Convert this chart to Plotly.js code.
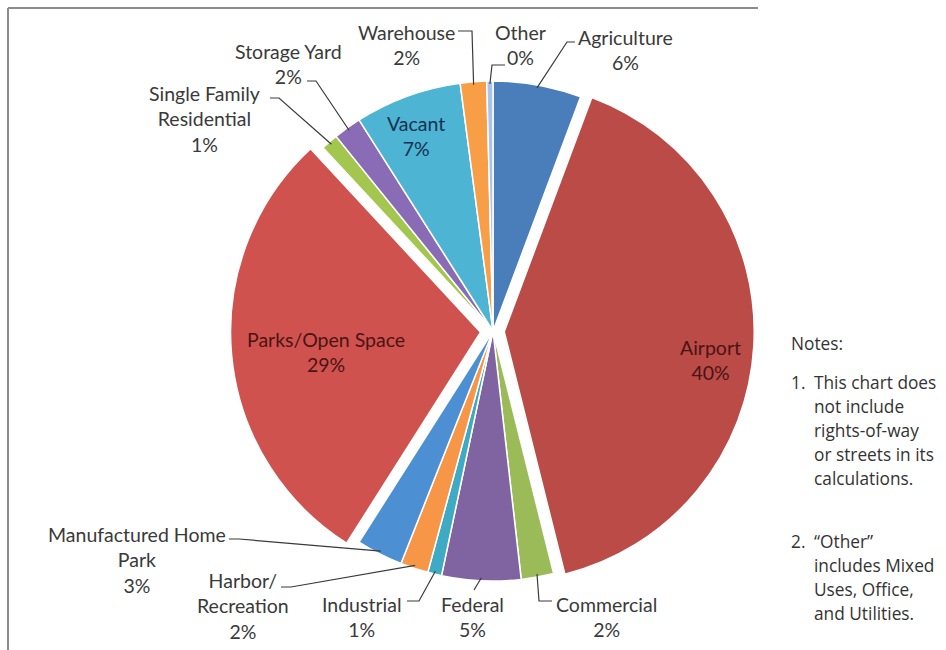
<!DOCTYPE html>
<html>
<head>
<meta charset="utf-8">
<script src="https://cdn.plot.ly/plotly-3.0.1.min.js"></script>
<style>
  html, body { margin: 0; padding: 0; background: #ffffff; }
  #chart { width: 946px; height: 650px; }
</style>
</head>
<body>
<div id="chart"></div>
<script>
// ---- Data ----
const categories = ["Agriculture", "Airport", "Commercial", "Federal", "Industrial",
  "Harbor/ Recreation", "Manufactured Home Park", "Parks/Open Space",
  "Single Family Residential", "Storage Yard", "Vacant", "Warehouse", "Other"];
const shares = [5.7, 40.4, 2.1, 5.1, 0.9, 1.8, 3.0, 29.1, 1.1, 1.8, 6.9, 1.7, 0.4];
// label text as displayed (line breaks)
const labelLines = [
  ["Agriculture"], ["Airport"], ["Commercial"], ["Federal"], ["Industrial"],
  ["Harbor/", "Recreation"], ["Manufactured Home", "Park"], ["Parks/Open Space"],
  ["Single Family", "Residential"], ["Storage Yard"], ["Vacant"], ["Warehouse"], ["Other"]
];
const notesTitle = "Notes:";
const notes = [
  ["This chart does", "not include", "rights-of-way", "or streets in its", "calculations."],
  ["\u201COther\u201D", "includes Mixed", "Uses, Office,", "and Utilities."]
];

// ---- Styles ----
const colors = ["#4A7EBB", "#BA4B47", "#9BBB59", "#8064A2", "#3FAAC4", "#F79646",
  "#4C8FD2", "#D0524E", "#A2C64E", "#8A6BB5", "#4DB4D4", "#F89E46", "#A9C4EA"];
const pulls = [0, 0.045, 0, 0, 0, 0, 0, 0.05, 0, 0, 0, 0, 0];

// ---- Geometry / layout (pixels) ----
const W = 946, H = 650;
const CX = 493, CY = 331, R = 250;
const maxPull = Math.max.apply(null, pulls);
const half = R * (1 + maxPull);
const px = x => x / W;
const py = y => 1 - y / H;

// Label placement: text block center (x) and top (y); leader: start point, elbow point
const labelPos = {
  "Agriculture": {x: 625, y: 24, start: [575, 42], elbow: [567, 42]},
  "Airport": {x: 710, y: 334, inside: true, color: "#4a1414"},
  "Commercial": {x: 606, y: 591, start: [552, 601], elbow: [539, 601]},
  "Federal": {x: 472, y: 591, start: [474, 590], elbow: [474, 590]},
  "Industrial": {x: 362, y: 591, start: [407, 601], elbow: [419, 601]},
  "Harbor/ Recreation": {x: 243, y: 567, start: [281, 587], elbow: [291, 587]},
  "Manufactured Home Park": {x: 137, y: 521, start: [229, 539], elbow: [239, 539]},
  "Parks/Open Space": {x: 326, y: 326, inside: true, color: "#4a1414"},
  "Single Family Residential": {x: 204, y: 80, start: [270, 98], elbow: [279, 98]},
  "Storage Yard": {x: 288, y: 38, start: [307, 81], elbow: [316, 81]},
  "Vacant": {x: 416, y: 110, inside: true, color: "#17324f"},
  "Warehouse": {x: 406, y: 19, start: [458, 31], elbow: [472, 31]},
  "Other": {x: 520, y: 19, start: [505, 65], elbow: [492, 65]}
};

const total = shares.reduce((a, b) => a + b, 0);
const annotations = [];
const shapes = [];
const font = {family: "Lato, 'Open Sans', sans-serif", size: 19.5, color: "#3a3a3a"};

let cum = 0;
categories.forEach((cat, i) => {
  const frac = shares[i] / total;
  const mid = cum + frac / 2;
  cum += frac;
  const pos = labelPos[cat];
  const pct = Math.round(frac * 100) + "%";
  const text = labelLines[i].concat([pct]).join("<br>");
  annotations.push({
    xref: "paper", yref: "paper", x: px(pos.x), y: py(pos.y),
    xanchor: "center", yanchor: "top", showarrow: false, align: "center",
    text: text,
    font: Object.assign({}, font, pos.inside ? {color: pos.color} : {})
  });
  if (!pos.inside) {
    // leader end on the slice's outer edge, from the data
    const th = mid * 2 * Math.PI;
    const rr = R * (1 + pulls[i]) - 3;
    const ax = CX + rr * Math.sin(th);
    const ay = CY - rr * Math.cos(th);
    const path = "M " + px(pos.start[0]) + "," + py(pos.start[1]) +
      " L " + px(pos.elbow[0]) + "," + py(pos.elbow[1]) +
      " L " + px(ax) + "," + py(ay);
    shapes.push({type: "path", xref: "paper", yref: "paper", path: path,
      line: {color: "#3a3a3a", width: 1.2}});
  }
});

// Frame lines (top and left)
shapes.push({type: "line", xref: "paper", yref: "paper",
  x0: px(8), y0: py(8), x1: px(758), y1: py(8), line: {color: "#8c8c8c", width: 2}});
shapes.push({type: "line", xref: "paper", yref: "paper",
  x0: px(8), y0: py(8), x1: px(8), y1: py(650), line: {color: "#8c8c8c", width: 2}});

// Notes
const noteFont = {family: "'Open Sans', 'Noto Sans', sans-serif", size: 17.3, color: "#333333"};
annotations.push({xref: "paper", yref: "paper", x: px(789), y: py(343), xanchor: "left",
  yanchor: "middle", showarrow: false, text: notesTitle, font: noteFont});
const noteStarts = [382, 541];
notes.forEach((lines, k) => {
  annotations.push({xref: "paper", yref: "paper", x: px(789), y: py(noteStarts[k]),
    xanchor: "left", yanchor: "middle", showarrow: false, text: (k + 1) + ".", font: noteFont});
  lines.forEach((ln, j) => {
    annotations.push({xref: "paper", yref: "paper", x: px(812), y: py(noteStarts[k] + j * 24),
      xanchor: "left", yanchor: "middle", showarrow: false, text: ln, font: noteFont});
  });
});

const trace = {
  type: "pie",
  labels: categories,
  values: shares,
  sort: false,
  direction: "clockwise",
  rotation: 0,
  pull: pulls,
  textinfo: "none",
  hoverinfo: "label+percent",
  marker: {colors: colors, line: {color: "#ffffff", width: 1.5}},
  domain: {x: [px(CX - half), px(CX + half)], y: [py(CY + half), py(CY - half)]},
  showlegend: false
};

const layout = {
  width: W, height: H,
  margin: {l: 0, r: 0, t: 0, b: 0},
  paper_bgcolor: "#ffffff",
  plot_bgcolor: "#ffffff",
  showlegend: false,
  annotations: annotations,
  shapes: shapes
};

Plotly.newPlot("chart", [trace], layout, {displayModeBar: false, staticPlot: true});
</script>
</body>
</html>
